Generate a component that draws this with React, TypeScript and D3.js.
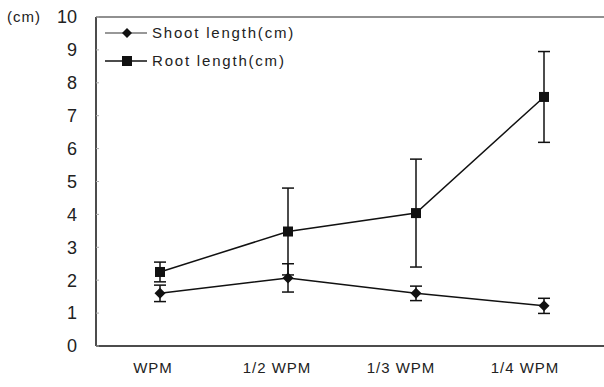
import * as d3 from 'd3';

const categories = ['WPM', '1/2 WPM', '1/3 WPM', '1/4 WPM'];
const shootMean = [1.6, 2.07, 1.6, 1.22];
const shootSd = [0.25, 0.43, 0.22, 0.23];
const rootMean = [2.25, 3.48, 4.04, 7.57];
const rootSd = [0.3, 1.32, 1.64, 1.38];
const yTicks = [0, 1, 2, 3, 4, 5, 6, 7, 8, 9, 10];

const W = 604;
const H = 387;
const left = 96;
const top = 17;
const bottom = 346;
const font = '"Liberation Sans", Arial, sans-serif';

const diamond = (s: number) => `M0,${-s}L${s},0L0,${s}L${-s},0Z`;

function Series({ mean, sd, kind }: { mean: number[]; sd: number[]; kind: 'diamond' | 'square' }) {
  const x = d3.scaleBand().domain(categories).range([left, 608]);
  const y = d3.scaleLinear().domain([0, 10]).range([bottom, top]);
  const cx = (i: number) => (x(categories[i]) as number) + x.bandwidth() / 2;
  const line = d3.line<number>().x((_, i) => cx(i)).y(d => y(d));
  return (
    <g>
      {mean.map((m, i) => (
        <g key={'e' + i} stroke="#111" strokeWidth={1.5}>
          <line x1={cx(i)} x2={cx(i)} y1={y(m - sd[i])} y2={y(m + sd[i])} />
          <line x1={cx(i) - 6} x2={cx(i) + 6} y1={y(m + sd[i])} y2={y(m + sd[i])} />
          <line x1={cx(i) - 6} x2={cx(i) + 6} y1={y(m - sd[i])} y2={y(m - sd[i])} />
        </g>
      ))}
      <path d={line(mean) || ''} fill="none" stroke="#111" strokeWidth={1.5} />
      {mean.map((m, i) =>
        kind === 'square' ? (
          <rect key={'m' + i} x={cx(i) - 5} y={y(m) - 5} width={10} height={10} fill="#111" />
        ) : (
          <path key={'m' + i} d={diamond(5.5)} transform={`translate(${cx(i)},${y(m)})`} fill="#111" />
        )
      )}
    </g>
  );
}

export default function App() {
  const y = d3.scaleLinear().domain([0, 10]).range([bottom, top]);
  const xl = d3.scaleBand().domain(categories).range([91, 587]);
  return (
    <svg width={W} height={H} style={{ position: 'absolute', left: 0, top: 0, background: '#fff' }} fontFamily={font}>
      <rect width={W} height={H} fill="#fff" />
      {/* frame */}
      <line x1={left} x2={W} y1={top} y2={top} stroke="#222" strokeWidth={1.2} />
      <line x1={left} x2={left} y1={top} y2={bottom} stroke="#111" strokeWidth={1.5} />
      <line x1={left} x2={W} y1={bottom} y2={bottom} stroke="#111" strokeWidth={1.5} />
      {yTicks.map(t => (
        <g key={t}>
          <line x1={left} x2={left + 3} y1={y(t)} y2={y(t)} stroke="#aaa" strokeWidth={1} />
          <text x={77} y={y(t)} dy="0.35em" textAnchor="end" fontSize={18} fill="#222">{t}</text>
        </g>
      ))}
      <text x={7} y={22} fontSize={15} fill="#222" letterSpacing={1}>(cm)</text>
      {categories.map(c => (
        <text key={c} x={(xl(c) as number) + xl.bandwidth() / 2} y={368} dy="0.35em" textAnchor="middle" fontSize={15} fill="#222" letterSpacing={1}>{c}</text>
      ))}
      <Series mean={rootMean} sd={rootSd} kind="square" />
      <Series mean={shootMean} sd={shootSd} kind="diamond" />
      {/* legend */}
      <g>
        <line x1={105} x2={147} y1={33} y2={33} stroke="#333" strokeWidth={1.2} />
        <path d={diamond(5)} transform="translate(127,33)" fill="#111" />
        <text x={152} y={33} dy="0.35em" fontSize={15} fill="#222" letterSpacing={1.8}>Shoot length(cm)</text>
        <line x1={105} x2={147} y1={61} y2={61} stroke="#111" strokeWidth={1.5} />
        <rect x={122} y={56} width={10} height={10} fill="#111" />
        <text x={152} y={61} dy="0.35em" fontSize={15} fill="#222" letterSpacing={1.8}>Root length(cm)</text>
      </g>
    </svg>
  );
}
